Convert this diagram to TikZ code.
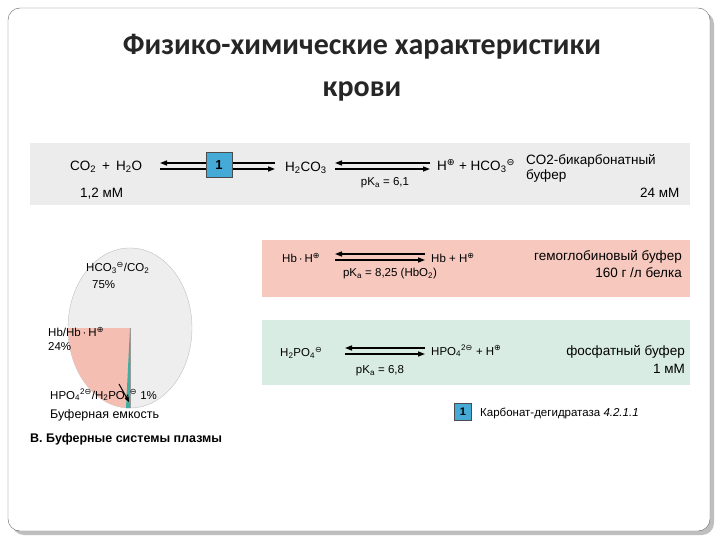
\documentclass[tikz,border=0pt]{standalone}
\usepackage{fontspec}
\setmainfont{Liberation Sans}
\newfontfamily\titlefont{Carlito}
\newfontfamily\symf{DejaVu Sans}
\usetikzlibrary{arrows.meta}
\newcommand\sbs[1]{\textsubscript{#1}}
\newcommand\pl{\textsuperscript{\symf ⊕}}
\newcommand\sbsp[2]{\textsubscript{#1}\textsuperscript{#2}}
\definecolor{bandgray}{RGB}{236,236,236}
\definecolor{bandpink}{RGB}{246,200,190}
\definecolor{bandteal}{RGB}{216,236,228}
\definecolor{boxblue}{RGB}{70,170,215}
\definecolor{piegray}{RGB}{238,238,238}
\definecolor{piepink}{RGB}{245,190,178}
\definecolor{pieteal}{RGB}{60,175,160}
\tikzset{
 lbl/.style={inner sep=0pt,anchor=west,font=\fontsize{13.5}{15}\selectfont},
 lblr/.style={inner sep=0pt,anchor=east,font=\fontsize{13.5}{15}\selectfont},
 small/.style={inner sep=0pt,font=\fontsize{11.5}{13}\selectfont},
 eq/.style={line width=1.3pt,-{Triangle[length=7pt,width=5pt]}},
 numbox/.style={draw=black!70,fill=boxblue,minimum width=26pt,minimum height=25pt,inner sep=0pt,font=\bfseries\fontsize{13}{14}\selectfont},
}
\begin{document}
\begin{tikzpicture}[x=1pt,y=-1pt]
\useasboundingbox (0,0) rectangle (720,540);
\fill[black!25,rounded corners=12pt] (12,12) rectangle (714,535);
\draw[black!60,fill=white,rounded corners=12pt] (8,8) rectangle (710,531);
\node[font=\titlefont\bfseries\fontsize{30}{42}\selectfont,text=black!85,align=center] (title) at (362,68) {Физико-химические характеристики\\крови};
% top band
\fill[bandgray] (30,143) rectangle (690,205);
\node[lbl] (co2) at (70,167) {CO\sbs{2} \,+\, H\sbs{2}O};
\node[lbl] (c12) at (80,194) {1,2 мМ};
\draw[eq] (275,163) -- (160,163);
\draw[eq] (160,169) -- (275,169);
\node[numbox] (k1) at (219,165) {1};
\node[lbl] (h2co3) at (285,168) {H\sbs{2}CO\sbs{3}};
\draw[eq] (430,163) -- (335,163);
\draw[eq] (335,169) -- (430,169);
\node[small] (pk1) at (385,183) {pK\sbs{a} = 6,1};
\node[lbl] (hco3) at (437,166) {H\pl{} + HCO\sbsp{3}{\symf ⊖}};
\node[lbl,align=left] (bic) at (526,168) {CO2-бикарбонатный\\буфер};
\node[lbl] (c24) at (640,193) {24 мМ};
% pie
\fill[piegray,draw=black!25] (130,328) ellipse[x radius=62,y radius=80];
\fill[piepink] (130,328) -- (68,328) arc[start angle=180,end angle=90,x radius=62,y radius=80] -- cycle;
\fill[pieteal] (130,328) -- (130,408) -- (126,408) -- cycle;
\draw[black!40] (130,328) -- (130,408);
\node[small,anchor=west] (p1) at (86,268) {HCO\sbsp{3}{\symf ⊖}/CO\sbs{2}};
\node[small,anchor=west] (p1b) at (92,285) {75\%};
\node[small,anchor=west] (p2) at (48,332) {Hb/Hb\,·\,H\pl};
\node[small,anchor=west] (p2b) at (48,347) {24\%};
\node[small,anchor=west] (p3) at (50,395) {HPO\sbsp{4}{2\symf ⊖}/H\sbs{2}PO\sbsp{4}{\symf ⊖} 1\%};
\coordinate (tip) at (129,402);
\coordinate (tail) at (119,384);
\draw[line width=1pt,-{Triangle[length=5pt,width=4pt]}] (tail) -- (tip);
\node[small,anchor=west,font=\fontsize{12.5}{14}\selectfont] (cap) at (50,415) {Буферная емкость};
\node[anchor=west,inner sep=0pt,font=\bfseries\fontsize{12.5}{14}\selectfont] (figt) at (30,439) {B. Буферные системы плазмы};
% pink band
\fill[bandpink] (262,240) rectangle (690,297);
\node[small,anchor=west] (hbh) at (282,258) {Hb\,·\,H\pl};
\draw[eq] (425,254) -- (335,254);
\draw[eq] (335,260) -- (425,260);
\node[small,anchor=west] (hb) at (431,258) {Hb + H\pl};
\node[small] (pk2) at (390,274) {pK\sbs{a} = 8,25 (HbO\sbs{2})};
\node[lblr] (hbuf) at (682,257) {гемоглобиновый буфер};
\node[lblr] (hbc) at (682,273) {160 г /л белка};
% teal band
\fill[bandteal] (262,320) rectangle (690,385);
\node[small,anchor=west] (h2po4) at (280,353) {H\sbs{2}PO\sbsp{4}{\symf ⊖}};
\draw[eq] (425,348) -- (345,348);
\draw[eq] (345,354) -- (425,354);
\node[small,anchor=west] (hpo4) at (431,351) {HPO\sbsp{4}{2\symf ⊖} + H\pl};
\node[small] (pk3) at (380,371) {pK\sbs{a} = 6,8};
\node[lblr] (pbuf) at (685,352) {фосфатный буфер};
\node[lblr] (pbc) at (685,369) {1 мМ};
% legend
\node[numbox,minimum width=17pt,minimum height=17pt,font=\bfseries\fontsize{11}{12}\selectfont] (k2) at (463,412) {1};
\node[small,anchor=west] (leg) at (480,413) {Карбонат-дегидратаза \textit{4.2.1.1}};
\end{tikzpicture}
\end{document}
